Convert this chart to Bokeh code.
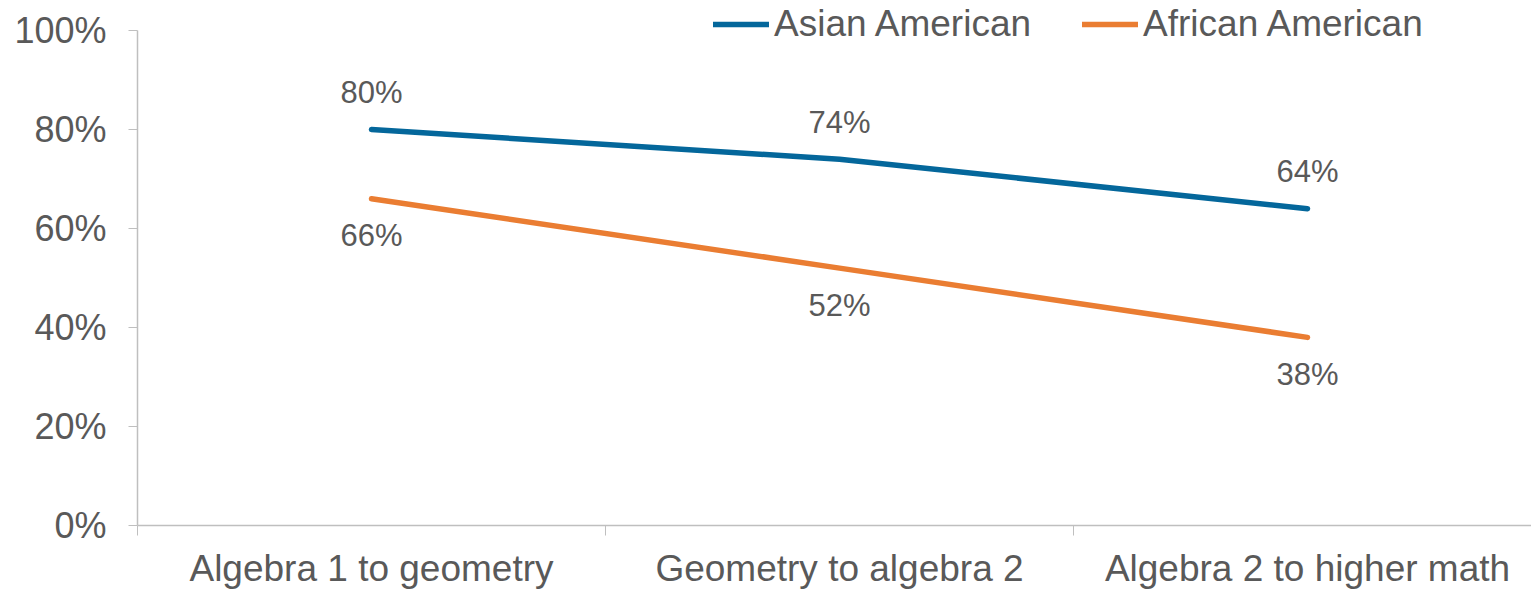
from bokeh.plotting import figure
from bokeh.models import (ColumnDataSource, FixedTicker, NumeralTickFormatter, Range1d,
                          LabelSet, Legend, LegendItem)
from bokeh.core.properties import value
from bokeh.embed import file_html
from bokeh.resources import INLINE

categories = ["Algebra 1 to geometry", "Geometry to algebra 2", "Algebra 2 to higher math"]
asian_american = [0.80, 0.74, 0.64]
african_american = [0.66, 0.52, 0.38]
series_names = ["Asian American", "African American"]
y_ticks = [0, 0.2, 0.4, 0.6, 0.8, 1.0]

BLUE = "#04679B"
ORANGE = "#EA7D32"
TEXT = "#595959"
AXIS = "#BFBFBF"
FONT = "Liberation Sans"

xs = [i + 0.5 for i in range(len(categories))]

p = figure(width=1531, height=591, output_backend="svg", toolbar_location=None,
           x_range=Range1d(0, 1394 / 468), y_range=Range1d(0, 525 / 495),
           min_border_left=137, min_border_right=0, min_border_top=0, min_border_bottom=66)
p.outline_line_color = None
p.grid.grid_line_color = None
p.background_fill_color = "white"

src_a = ColumnDataSource(dict(x=xs, y=asian_american, lab=[f"{round(v*100)}%" for v in asian_american]))
src_b = ColumnDataSource(dict(x=xs, y=african_american, lab=[f"{round(v*100)}%" for v in african_american]))

r_a = p.line("x", "y", source=src_a, line_color=BLUE, line_width=5.5, line_cap="round", line_join="round")
r_b = p.line("x", "y", source=src_b, line_color=ORANGE, line_width=5.5, line_cap="round", line_join="round")

for src, off in ((src_a, 37), (src_b, -37)):
    p.add_layout(LabelSet(x="x", y="y", text="lab", source=src, y_offset=off,
                          text_align="center", text_baseline="middle",
                          text_font=value(FONT), text_font_size="31px", text_color=TEXT))

# x axis
xa = p.xaxis[0]
xa.ticker = FixedTicker(ticks=xs, minor_ticks=[0, 1, 2, 3])
xa.major_label_overrides = {x: c for x, c in zip(xs, categories)}
xa.major_tick_out = 0
xa.major_tick_in = 0
xa.minor_tick_out = 10
xa.minor_tick_in = 0
xa.minor_tick_line_color = AXIS
xa.axis_line_color = AXIS
xa.axis_line_width = 1.5
xa.major_label_text_font = FONT
xa.major_label_text_font_size = "37px"
xa.major_label_text_color = TEXT
xa.major_label_standoff = 12

ya = p.yaxis[0]
ya.ticker = FixedTicker(ticks=y_ticks)
ya.bounds = (0, 1)
ya.formatter = NumeralTickFormatter(format="0%")
ya.major_tick_out = 9
ya.major_tick_in = 0
ya.minor_tick_out = 0
ya.minor_tick_in = 0
ya.major_tick_line_color = AXIS
ya.axis_line_color = AXIS
ya.axis_line_width = 1.5
ya.major_label_text_font = FONT
ya.major_label_text_font_size = "36px"
ya.major_label_text_color = TEXT
ya.major_label_standoff = 22

legend = Legend(items=[LegendItem(label=series_names[0], renderers=[r_a]),
                       LegendItem(label=series_names[1], renderers=[r_b])],
                orientation="horizontal", location=(576, 480),
                padding=0, margin=0, spacing=51, label_standoff=5,
                glyph_width=56, glyph_height=30, label_height=36,
                label_text_font=FONT, label_text_font_size="37px", label_text_color=TEXT,
                border_line_alpha=0, background_fill_alpha=0)
p.add_layout(legend, "center")

open("out.html", "w").write(file_html(p, INLINE))
